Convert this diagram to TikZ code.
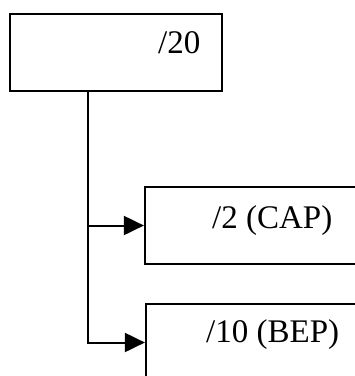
\documentclass[tikz,border=0pt]{standalone}
\usepackage{fontspec}
\setmainfont{Liberation Serif}
\usetikzlibrary{arrows.meta}
\begin{document}
\begin{tikzpicture}[x=1pt,y=1pt,
  boxnode/.style={draw=black,line width=2.2pt,rectangle,inner sep=0pt},
  lbl/.style={inner sep=0pt,anchor=base west,font=\fontsize{33}{33}\selectfont},
  conn/.style={draw=black,line width=2pt,-{Triangle[length=20pt,width=19pt]}}]
\useasboundingbox (0,0) rectangle (355,-376);
\clip (0,0) rectangle (355,-376);
\node[boxnode,minimum width=212pt,minimum height=77pt] (top) at (116,-52.5) {};
\node[boxnode,minimum width=255pt,minimum height=77pt] (cap) at (272.5,-225.5) {};
\node[boxnode,minimum width=255pt,minimum height=77pt] (bep) at (273.5,-342.5) {};
\node[lbl] (t20) at (158,-53) {/20};
\node[lbl] (tcap) at (212,-228) {/2 (CAP)};
\node[lbl] (tbep) at (206,-342) {/10 (BEP)};
\coordinate (trunk) at (88,-91);
\draw[conn] (trunk) |- (cap.west);
\draw[conn] (trunk) |- (bep.west);
\end{tikzpicture}
\end{document}
